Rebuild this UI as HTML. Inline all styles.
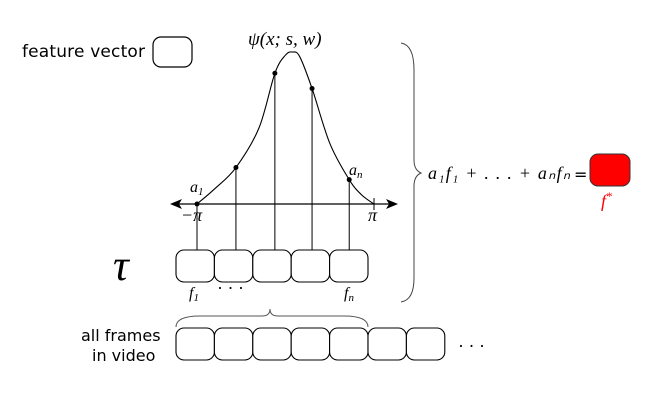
<!DOCTYPE html>
<html><head><meta charset="utf-8"><style>
html,body{margin:0;padding:0;background:#fff;}
svg{display:block;}
.m{font-family:"Liberation Serif",serif;font-style:italic;}
.s{font-family:"DejaVu Sans","Liberation Sans",sans-serif;}
</style></head><body>
<svg id="c" width="666" height="417" viewBox="0 0 666 417" xmlns="http://www.w3.org/2000/svg">
<text class="s" x="22" y="57" font-size="17" fill="#000" textLength="123">feature vector</text>
<rect x="153" y="37" width="39" height="30" rx="8" fill="#fff" stroke="#000" stroke-width="1.2"/>
<text class="m" x="248" y="45" font-size="19">ψ(x; s, w)</text>
<line x1="172" y1="204" x2="396" y2="204" stroke="#000" stroke-width="1.2"/>
<path d="M170,204 L182,199 L179,204 L182,209 Z" fill="#000"/>
<path d="M398,204 L386,199 L389,204 L386,209 Z" fill="#000"/>
<line x1="374" y1="198" x2="374" y2="210" stroke="#000"/>
<text class="m" x="181" y="221" font-size="18">−π</text>
<text class="m" x="368" y="221" font-size="18">π</text>
<text class="m" x="190" y="192" font-size="16">a<tspan font-size="11" dy="3">1</tspan></text>
<text class="m" x="349" y="175" font-size="16">a<tspan font-size="11" dy="3">n</tspan></text>
<g id="plot"></g>
<text class="m" x="113" y="280" font-size="44">τ</text>
<text class="m" x="189" y="298" font-size="16">f<tspan font-size="11" dy="3">1</tspan></text>
<text x="217" y="294" font-size="18" font-family="Liberation Serif">· · ·</text>
<text class="m" x="344" y="298" font-size="16">f<tspan font-size="11" dy="3">n</tspan></text>
<path d="M176,327 Q176,316 200,316 L262,316 Q270,316 270,309 Q270,316 278,316 L344,316 Q368,316 368,327" fill="none" stroke="#555" stroke-width="1"/>
<text class="s" x="81" y="341" font-size="16">all frames</text>
<text class="s" x="92" y="361" font-size="16">in video</text>
<g id="allframes"></g>
<text x="458" y="352" font-size="18" font-family="Liberation Serif">· · ·</text>
<path d="M401,43 Q414,45 414,70 L414,160 Q414,170 421,173 Q414,176 414,186 L414,278 Q414,300 401,302" fill="none" stroke="#444" stroke-width="1"/>
<text class="m" x="428" y="179" font-size="18" textLength="142" lengthAdjust="spacing">a₁f₁ + . . . + aₙfₙ</text>
<text class="s" x="574" y="180" font-size="16">=</text>
<rect x="590" y="154" width="40" height="32" rx="8" fill="#f00" stroke="#333" stroke-width="1"/>
<text class="m" x="601" y="207" font-size="18" fill="#f00">f<tspan font-size="12" dy="-7">*</tspan></text>
</svg>
<script>
const curveT = [0,0.1,0.22,0.35,0.44,0.5,0.54,0.58,0.65,0.75,0.86,0.93,1];
const curveV = [0,0.1,0.24,0.5,0.86,0.98,1.0,0.97,0.76,0.4,0.16,0.06,0];
const stemT = [0,0.22,0.44,0.65,0.86];
const stemV = [0,0.24,0.86,0.76,0.16];
const videoFrames = 7;
const X0=197,X1=374,Y0=204,H=152;
function sx(t){return X0+t*(X1-X0);}
function sy(v){return Y0-v*H;}
const NS="http://www.w3.org/2000/svg";
const plot=document.getElementById('plot');
const pts=curveT.map((t,i)=>[sx(t),sy(curveV[i])]);
let d="M"+pts[0][0]+","+pts[0][1];
for(let i=0;i<pts.length-1;i++){
 const p0=pts[Math.max(0,i-1)],p1=pts[i],p2=pts[i+1],p3=pts[Math.min(pts.length-1,i+2)];
 const c1=[p1[0]+(p2[0]-p0[0])/6,p1[1]+(p2[1]-p0[1])/6];
 const c2=[p2[0]-(p3[0]-p1[0])/6,p2[1]-(p3[1]-p1[1])/6];
 d+=` C${c1[0]},${c1[1]} ${c2[0]},${c2[1]} ${p2[0]},${p2[1]}`;
}
const path=document.createElementNS(NS,'path');
path.setAttribute('d',d);path.setAttribute('fill','none');path.setAttribute('stroke','#000');path.setAttribute('stroke-width','1.1');


plot.appendChild(path);
const BW=38.4,BX=176,BY=250,BH=32;
stemT.forEach((t,i)=>{
 const x=sx(t);
 const ln=document.createElementNS(NS,'line');
 ln.setAttribute('x1',x);ln.setAttribute('x2',x);ln.setAttribute('y1',sy(stemV[i]));ln.setAttribute('y2',BY);
 ln.setAttribute('stroke','#000');ln.setAttribute('stroke-width','1');
 
 
 plot.appendChild(ln);
 const c=document.createElementNS(NS,'circle');
 c.setAttribute('cx',x);c.setAttribute('cy',sy(stemV[i]));c.setAttribute('r','2.5');
 
 
 plot.appendChild(c);
 const r=document.createElementNS(NS,'rect');
 r.setAttribute('x',BX+BW*i);r.setAttribute('y',BY);r.setAttribute('width',BW);r.setAttribute('height',BH);r.setAttribute('rx','8');
 r.setAttribute('fill','#fff');r.setAttribute('stroke','#000');r.setAttribute('stroke-width','1.1');
 
 
 plot.appendChild(r);
});
const af=document.getElementById('allframes');
for(let i=0;i<videoFrames;i++){
 const r=document.createElementNS(NS,'rect');
 r.setAttribute('x',BX+BW*i);r.setAttribute('y',328);r.setAttribute('width',BW);r.setAttribute('height',32);r.setAttribute('rx','8');
 r.setAttribute('fill','#fff');r.setAttribute('stroke','#000');r.setAttribute('stroke-width','1.1');
 
 
 af.appendChild(r);
}
</script>
</body></html>
